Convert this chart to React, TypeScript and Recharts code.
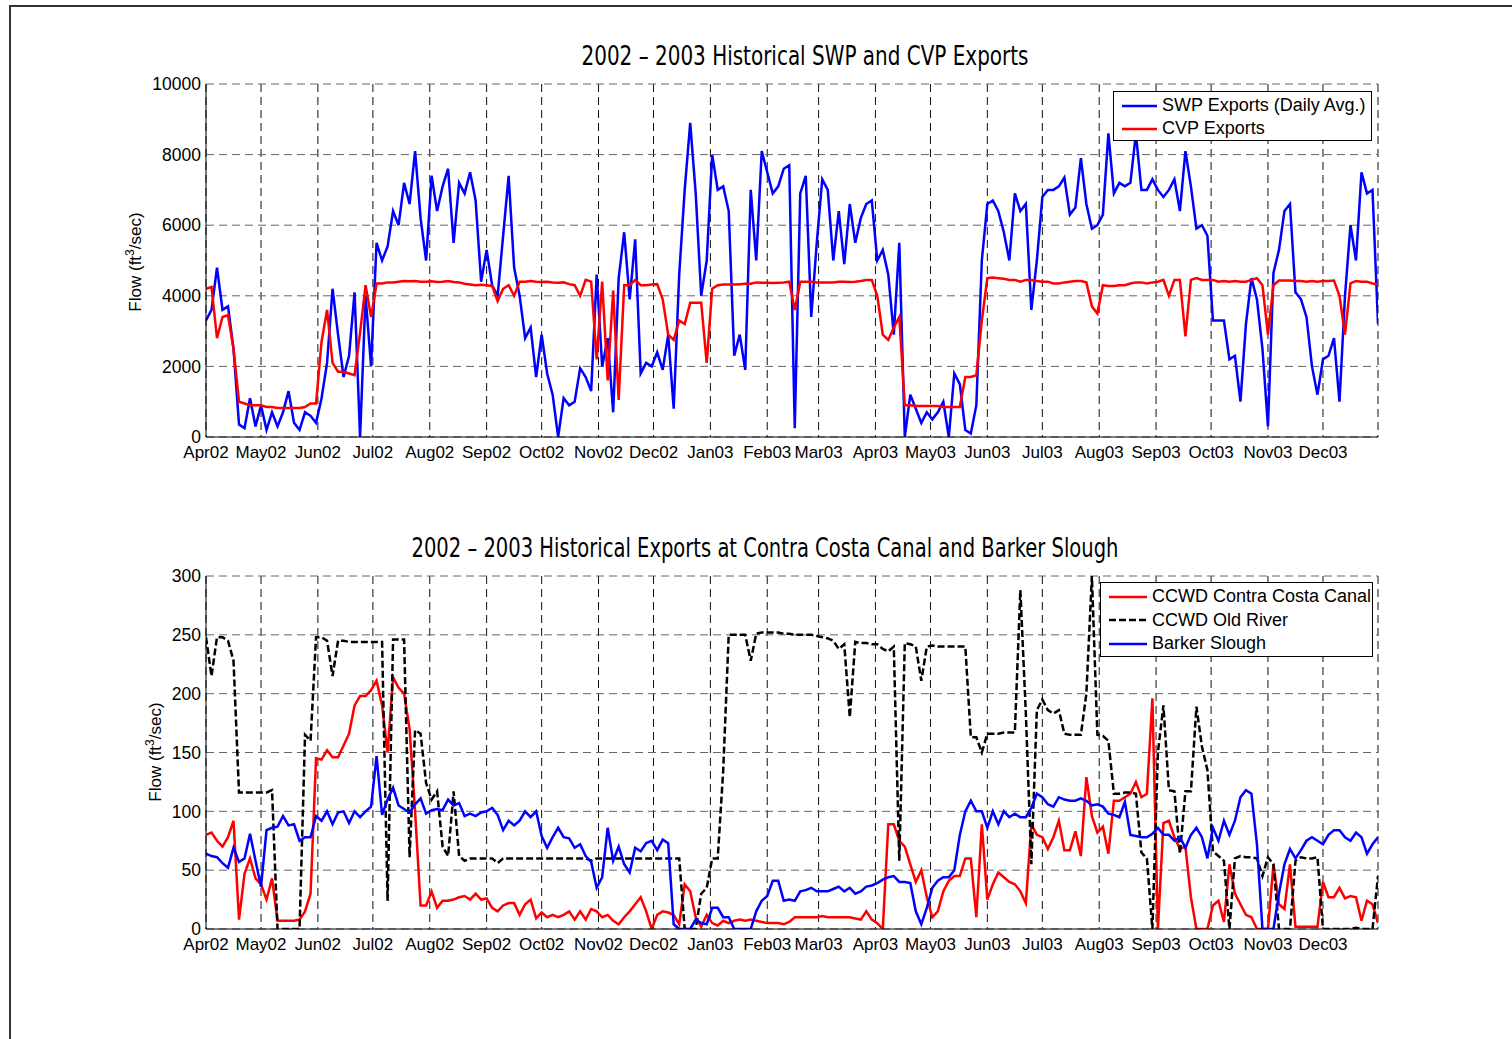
import { LineChart, Line, XAxis, YAxis, CartesianGrid } from 'recharts';

// sampled every 3 days starting 1 Apr 2002 (day 0) through 31 Dec 2003 (day 639)
const DAY_STEP = 3;

const MONTH_DAYS = [0, 30, 61, 91, 122, 153, 183, 214, 244, 275, 306, 334, 365, 395, 426, 456, 487, 518, 548, 579, 609];
const MONTH_LABELS = [
  'Apr02', 'May02', 'Jun02', 'Jul02', 'Aug02', 'Sep02', 'Oct02', 'Nov02', 'Dec02',
  'Jan03', 'Feb03', 'Mar03', 'Apr03', 'May03', 'Jun03', 'Jul03', 'Aug03', 'Sep03', 'Oct03', 'Nov03', 'Dec03',
];

const TOP_TICKS = [0, 2000, 4000, 6000, 8000, 10000];
const BOTTOM_TICKS = [0, 50, 100, 150, 200, 250, 300];

// ft3/sec
const swpExports = [
  3300, 3600, 4800, 3600, 3700, 2500, 350, 250, 1100, 300,
  900, 200, 700, 300, 700, 1300, 400, 200, 700, 600,
  400, 1100, 2100, 4200, 2900, 1700, 2300, 4100, 0, 4000,
  2000, 5500, 5000, 5400, 6400, 6000, 7200, 6600, 8100, 6200,
  5000, 7400, 6400, 7100, 7600, 5500, 7200, 6900, 7500, 6700,
  4400, 5300, 4300, 4000, 5700, 7400, 4800, 4000, 2800, 3100,
  1700, 2900, 1800, 1200, 0, 1100, 900, 1000, 1950, 1700,
  1300, 4600, 2000, 2800, 700, 4500, 5800, 3900, 5600, 1800,
  2100, 2000, 2400, 1900, 2900, 800, 4600, 7000, 8900, 6900,
  4000, 5000, 8000, 7000, 7100, 6400, 2300, 2900, 1900, 7000,
  5000, 8100, 7500, 6900, 7100, 7600, 7700, 250, 6900, 7400,
  3400, 5500, 7300, 7000, 5000, 6400, 4900, 6600, 5500, 6200,
  6600, 6700, 5000, 5300, 4600, 2900, 5500, 0, 1200, 800,
  400, 700, 500, 700, 1000, 0, 1800, 1500, 200, 100,
  900, 5000, 6600, 6700, 6400, 5800, 5000, 6900, 6400, 6600,
  3600, 5000, 6800, 7000, 7000, 7100, 7350, 6300, 6500, 7900,
  6600, 5900, 6000, 6300, 8600, 6900, 7200, 7100, 7200, 8600,
  7000, 7000, 7300, 7000, 6800, 7000, 7300, 6400, 8100, 7100,
  5900, 6000, 5700, 3300, 3300, 3300, 2200, 2300, 1000, 3200,
  4500, 3900, 2500, 300, 4650, 5300, 6400, 6600, 4100, 3900,
  3400, 2000, 1200, 2200, 2300, 2800, 1000, 4000, 6000, 5000,
  7500, 6900, 7000, 3200,
];

const cvpExports = [
  4200, 4250, 2800, 3400, 3450, 2500, 1000, 950, 900, 900,
  900, 850, 850, 820, 820, 820, 820, 820, 850, 950,
  950, 2700, 3600, 2100, 1850, 1850, 1800, 1750, 2950, 4300,
  3400, 4350, 4350, 4380, 4380, 4400, 4420, 4410, 4420, 4400,
  4400, 4410, 4390, 4400, 4420, 4390, 4380, 4340, 4320, 4300,
  4310, 4300, 4280, 3850, 4200, 4300, 4000, 4400, 4400, 4420,
  4400, 4390, 4400, 4380, 4370, 4380, 4330, 4300, 4000, 4450,
  4400, 2200, 4400, 1600, 4150, 1050, 4300, 4300, 4450, 4300,
  4300, 4320, 4330, 3900, 2900, 2750, 3300, 3200, 3800, 3800,
  3800, 2100, 4200, 4300, 4320, 4320, 4320, 4330, 4340, 4340,
  4380, 4370, 4370, 4360, 4370, 4380, 4400, 3600, 4400, 4400,
  4400, 4380, 4380, 4380, 4380, 4400, 4400, 4390, 4400, 4420,
  4450, 4450, 4000, 2900, 2750, 3100, 3400, 900, 900, 880,
  880, 880, 880, 880, 850, 850, 850, 850, 1700, 1700,
  1750, 3300, 4500, 4520, 4500, 4480, 4450, 4450, 4400, 4450,
  4450, 4420, 4400, 4400, 4350, 4350, 4380, 4400, 4420, 4420,
  4380, 3700, 3500, 4300, 4280, 4280, 4300, 4300, 4350, 4380,
  4380, 4350, 4380, 4400, 4450, 4000, 4450, 4450, 2850, 4450,
  4500, 4450, 4450, 4450, 4400, 4420, 4400, 4420, 4400, 4400,
  4450, 4500, 4300, 2900, 4300, 4430, 4430, 4430, 4420, 4420,
  4400, 4420, 4400, 4420, 4420, 4430, 4000, 2900, 4350, 4420,
  4400, 4400, 4350, 4320,
];

const ccwdContraCosta = [
  80, 82, 75, 70, 78, 92, 8, 47, 60, 43,
  38, 25, 43, 7, 7, 7, 7, 8, 15, 30,
  145, 144, 152, 146, 146, 156, 166, 190, 198, 198,
  203, 211, 190, 150, 214, 205, 200, 170, 100, 20,
  20, 32, 18, 24, 24, 25, 27, 28, 25, 30,
  25, 26, 18, 15, 20, 22, 22, 12, 21, 25,
  9, 14, 10, 12, 10, 12, 15, 8, 15, 8,
  17, 15, 10, 12, 7, 4, 10, 15, 21, 27,
  15, 0, 12, 15, 14, 12, 4, 38, 32, 10,
  2, 12, 5, 3, 7, 5, 7, 8, 7, 8,
  7, 6, 5, 5, 5, 4, 6, 10, 10, 10,
  10, 10, 11, 10, 10, 10, 10, 10, 9, 8,
  15, 8, 5, 0, 89, 89, 75, 70, 55, 40,
  50, 27, 10, 15, 32, 41, 45, 45, 60, 60,
  10, 89, 25, 38, 48, 44, 40, 38, 32, 22,
  89, 80, 78, 68, 78, 92, 67, 67, 83, 62,
  129, 96, 82, 87, 64, 109, 109, 112, 115, 125,
  112, 115, 196, 0, 90, 92, 78, 68, 70, 27,
  0, 0, 0, 20, 24, 6, 55, 30, 21, 12,
  10, 0, 0, 0, 55, 21, 17, 55, 2, 2,
  2, 2, 2, 40, 27, 27, 35, 26, 28, 27,
  7, 24, 21, 5,
];

const ccwdOldRiver = [
  248, 215, 248, 248, 245, 228, 116, 116, 116, 116,
  116, 116, 118, 0, 0, 0, 0, 0, 165, 160,
  248, 248, 245, 215, 245, 245, 244, 244, 244, 244,
  244, 244, 244, 24, 246, 246, 246, 61, 169, 166,
  124, 110, 117, 70, 62, 117, 62, 58, 60, 60,
  60, 60, 60, 56, 60, 60, 60, 60, 60, 60,
  60, 60, 60, 60, 60, 60, 60, 60, 60, 60,
  58, 60, 60, 60, 60, 60, 60, 60, 60, 60,
  60, 60, 60, 60, 60, 60, 60, 0, 0, 0,
  30, 35, 60, 60, 135, 250, 250, 250, 250, 228,
  251, 252, 252, 252, 252, 251, 251, 250, 250, 250,
  250, 249, 248, 247, 245, 238, 242, 180, 244, 243,
  243, 242, 242, 238, 236, 240, 58, 243, 242, 240,
  211, 240, 241, 240, 240, 240, 240, 240, 240, 163,
  163, 150, 166, 166, 166, 167, 167, 167, 288, 183,
  55, 186, 195, 186, 183, 186, 166, 165, 165, 165,
  200, 300, 165, 164, 160, 115, 115, 116, 116, 115,
  65, 60, 0, 150, 190, 118, 117, 64, 117, 117,
  189, 155, 135, 66, 62, 58, 0, 60, 62, 61,
  61, 60, 45, 61, 55, 0, 0, 0, 58, 61,
  60, 60, 61, 0, 0, 0, 0, 0, 0, 1,
  0, 0, 0, 45,
];

const barkerSlough = [
  64, 62, 61, 56, 52, 69, 57, 60, 81, 58,
  36, 84, 86, 87, 96, 88, 89, 75, 78, 78,
  96, 92, 100, 89, 99, 100, 90, 100, 95, 100,
  104, 147, 97, 110, 120, 105, 102, 99, 106, 111,
  98, 101, 102, 101, 110, 105, 107, 96, 98, 96,
  99, 100, 103, 97, 84, 92, 88, 92, 100, 95,
  100, 79, 69, 78, 86, 78, 77, 69, 72, 62,
  57, 35, 44, 86, 58, 70, 55, 48, 69, 66,
  73, 75, 67, 76, 73, 4, 0, 0, 0, 8,
  5, 4, 18, 18, 10, 10, 0, 0, 0, 0,
  15, 24, 28, 41, 41, 24, 25, 24, 32, 33,
  35, 32, 32, 32, 34, 36, 32, 35, 30, 32,
  36, 37, 39, 42, 44, 45, 40, 40, 39, 15,
  4, 18, 35, 41, 44, 44, 50, 80, 100, 109,
  100, 100, 86, 100, 89, 100, 95, 98, 95, 95,
  103, 115, 112, 106, 104, 112, 110, 109, 109, 111,
  109, 105, 106, 104, 98, 97, 95, 108, 80, 79,
  78, 78, 81, 86, 80, 80, 75, 78, 69, 80,
  86, 78, 60, 86, 75, 92, 80, 92, 112, 118,
  115, 72, 0, 0, 0, 30, 55, 68, 60, 67,
  75, 78, 75, 72, 80, 84, 84, 78, 75, 82,
  78, 64, 72, 78,
];

const FONT = '"Liberation Sans", Arial, Helvetica, sans-serif';
const NARROW = '"Liberation Sans Narrow", "Arial Narrow", "DejaVu Sans Condensed", sans-serif';

const toPoints = (values: number[]) => values.map((v, i) => ({ day: i * DAY_STEP, v }));

const monthLabel = (d: number) => MONTH_LABELS[MONTH_DAYS.indexOf(d)] ?? '';

interface SeriesDef {
  name: string;
  values: number[];
  color: string;
  dash?: string;
}

const topSeries: SeriesDef[] = [
  { name: 'SWP Exports (Daily Avg.)', values: swpExports, color: '#0000ff' },
  { name: 'CVP Exports', values: cvpExports, color: '#ff0000' },
];

// drawn in this order: black under red under blue, like the original
const bottomSeries: SeriesDef[] = [
  { name: 'CCWD Contra Costa Canal', values: ccwdContraCosta, color: '#ff0000' },
  { name: 'CCWD Old River', values: ccwdOldRiver, color: '#000000', dash: '7 3' },
  { name: 'Barker Slough', values: barkerSlough, color: '#0000ff' },
];

function Panel({ series, yMax, yTicks, height, top }: {
  series: SeriesDef[];
  yMax: number;
  yTicks: number[];
  height: number;
  top: number;
}) {
  const tickStyle = { fill: '#000', fontSize: 17.5, fontFamily: FONT };
  return (
    <LineChart width={1512} height={height} margin={{ top, right: 134, bottom: height - top - 353 - 30, left: 146 }}>
      <CartesianGrid horizontal={false} stroke="#111" strokeDasharray="8 5" />
      <CartesianGrid vertical={false} stroke="#666" strokeDasharray="8 5" />
      <XAxis
        dataKey="day"
        type="number"
        domain={[0, 639]}
        ticks={MONTH_DAYS}
        interval={0}
        tickFormatter={monthLabel}
        height={30}
        tickSize={0}
        tickMargin={9}
        tick={{ ...tickStyle, fontSize: 17 }}
        axisLine={{ stroke: '#000', strokeWidth: 1 }}
        allowDataOverflow
      />
      <XAxis xAxisId="top" orientation="top" type="number" domain={[0, 639]} height={0} tick={false} tickLine={false} axisLine={{ stroke: '#000' }} />
      <YAxis
        type="number"
        domain={[0, yMax]}
        ticks={yTicks}
        interval={0}
        width={60}
        tickSize={0}
        tickMargin={5}
        tick={tickStyle}
        axisLine={{ stroke: '#000', strokeWidth: 1 }}
        allowDataOverflow
      />
      <YAxis yAxisId="right" orientation="right" domain={[0, 1]} width={0} tick={false} tickLine={false} axisLine={{ stroke: '#000' }} />
      {series.map((s) => (
        <Line
          key={s.name}
          data={toPoints(s.values)}
          dataKey="v"
          type="linear"
          stroke={s.color}
          strokeWidth={2.5}
          strokeDasharray={s.dash}
          dot={false}
          activeDot={false}
          isAnimationActive={false}
        />
      ))}
    </LineChart>
  );
}

function LegendBox({ series, left, top, width, rowHeight, lineLen }: {
  series: SeriesDef[];
  left: number;
  top: number;
  width: number;
  rowHeight: number;
  lineLen: number;
}) {
  return (
    <div style={{
      position: 'absolute', left, top, width, height: series.length * rowHeight + 4,
      border: '1.5px solid #000', background: '#fff', boxSizing: 'border-box',
      fontFamily: FONT, fontSize: 18, color: '#000',
    }}>
      {series.map((s, i) => (
        <div key={s.name} style={{ position: 'absolute', left: 8, top: 2 + i * rowHeight, height: rowHeight, display: 'flex', alignItems: 'center', whiteSpace: 'nowrap' }}>
          <svg width={lineLen} height={6} style={{ marginRight: 5 }}>
            <line x1={0} x2={lineLen} y1={3} y2={3} stroke={s.color} strokeWidth={2.5} strokeDasharray={s.dash} />
          </svg>
          {s.name}
        </div>
      ))}
    </div>
  );
}

function FlowLabel({ x, y }: { x: number; y: number }) {
  return (
    <text x={x} y={y} transform={`rotate(-90 ${x} ${y})`} textAnchor="middle" fontFamily={FONT} fontSize={17} fill="#000">
      Flow (ft<tspan dy={-7} fontSize={12}>3</tspan><tspan dy={7}>/sec)</tspan>
    </text>
  );
}

export default function App() {
  return (
    <div style={{ position: 'relative', width: 1512, height: 1039, overflow: 'hidden', background: '#fff' }}>
      <style>{'body{margin:0}'}</style>
      <div style={{ position: 'absolute', left: 9, top: 5, width: 1700, height: 1200, borderTop: '2px solid #333', borderLeft: '2px solid #333' }} />

      <div style={{ position: 'absolute', left: 0, top: 0 }}>
        <Panel series={topSeries} yMax={10000} yTicks={TOP_TICKS} height={480} top={84} />
      </div>
      <div style={{ position: 'absolute', left: 0, top: 490 }}>
        <Panel series={bottomSeries} yMax={300} yTicks={BOTTOM_TICKS} height={490} top={86} />
      </div>

      <svg width={1512} height={1039} style={{ position: 'absolute', left: 0, top: 0, pointerEvents: 'none' }}>
        <text x={805} y={65} textAnchor="middle" fontFamily={NARROW} fontSize={26} fill="#000" textLength={447} lengthAdjust="spacingAndGlyphs">
          2002 – 2003 Historical SWP and CVP Exports
        </text>
        <text x={765} y={557} textAnchor="middle" fontFamily={NARROW} fontSize={26} fill="#000" textLength={707} lengthAdjust="spacingAndGlyphs">
          2002 – 2003 Historical Exports at Contra Costa Canal and Barker Slough
        </text>
        <FlowLabel x={141} y={262} />
        <FlowLabel x={161} y={752} />
      </svg>

      <LegendBox series={topSeries} left={1113} top={91} width={259} rowHeight={23} lineLen={35} />
      <LegendBox series={bottomSeries} left={1100} top={582} width={273} rowHeight={23.5} lineLen={38} />
    </div>
  );
}
